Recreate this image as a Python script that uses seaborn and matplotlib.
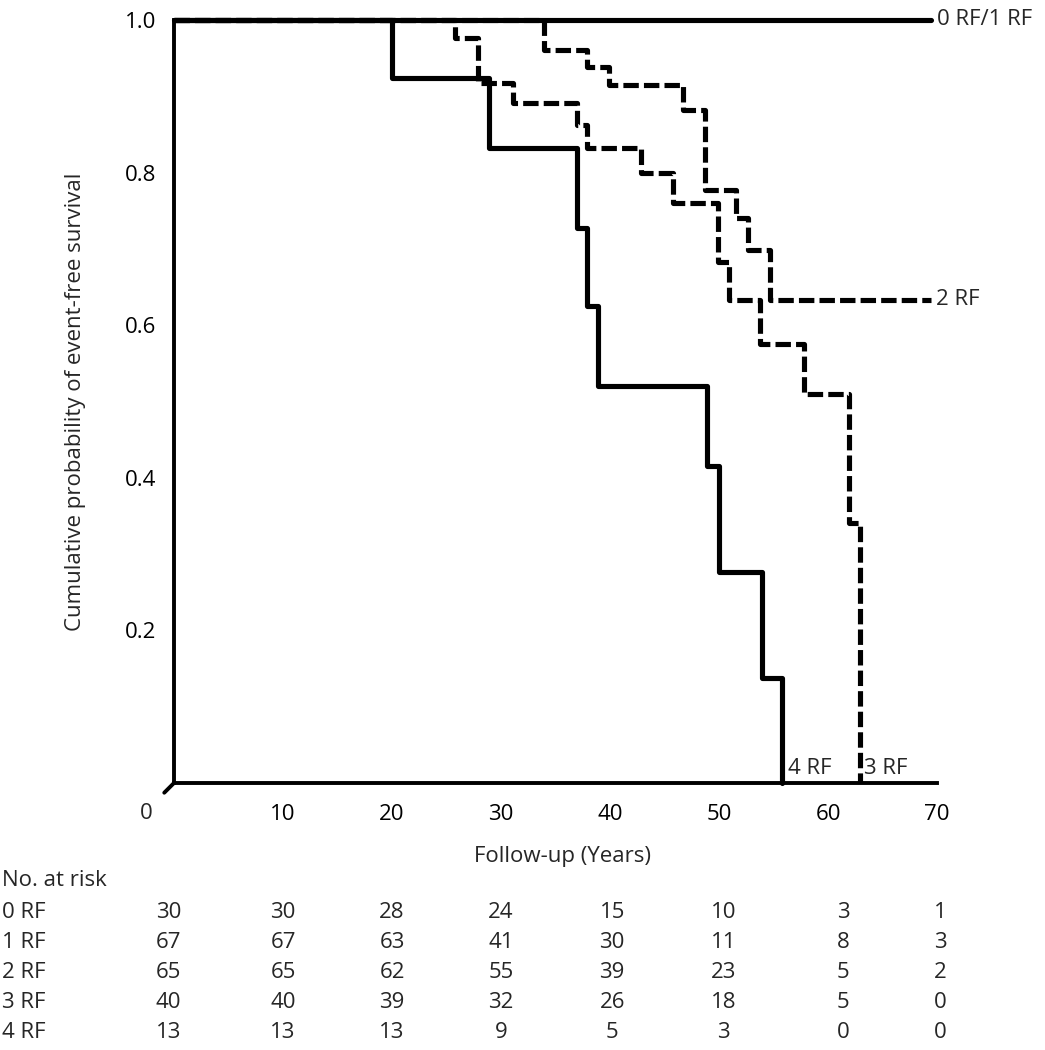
import pandas as pd
import matplotlib.pyplot as plt
import matplotlib.transforms as mtransforms
import seaborn as sns

sns.set_style("white")
plt.rcParams['font.family'] = ['Open Sans', 'DejaVu Sans']
plt.rcParams['font.size'] = 16

# -------------------------
# Kaplan-Meier step data
# -------------------------
t_01 = [0, 69.4]
s_01 = [1.0, 1.0]

t_2 = [0, 33.9, 37.9, 39.9, 46.7, 48.7, 51.6, 52.7, 54.7, 69.4]
s_2 = [1.0, 0.961, 0.938, 0.915, 0.882, 0.777, 0.741, 0.699, 0.633, 0.633]

t_3 = [0, 25.8, 27.9, 31.1, 37.0, 37.9, 42.8, 45.8, 49.9, 50.9, 53.8, 57.8, 61.9, 62.9]
s_3 = [1.0, 0.976, 0.918, 0.891, 0.862, 0.832, 0.800, 0.760, 0.683, 0.633, 0.575, 0.510, 0.341, 0.0]

t_4 = [0, 20.0, 28.9, 37.0, 37.9, 38.9, 48.9, 50.0, 53.9, 55.8]
s_4 = [1.0, 0.924, 0.832, 0.727, 0.625, 0.520, 0.415, 0.277, 0.138, 0.0]

# number at risk table
risk_times = [0, 10, 20, 30, 40, 50, 60, 70]
risk_groups = ["0 RF", "1 RF", "2 RF", "3 RF", "4 RF"]
risk_0 = [30, 30, 28, 24, 15, 10, 3, 1]
risk_1 = [67, 67, 63, 41, 30, 11, 8, 3]
risk_2 = [65, 65, 62, 55, 39, 23, 5, 2]
risk_3 = [40, 40, 39, 32, 26, 18, 5, 0]
risk_4 = [13, 13, 13, 9, 5, 3, 0, 0]

x_ticks = [10, 20, 30, 40, 50, 60, 70]
y_ticks = [0.2, 0.4, 0.6, 0.8, 1.0]

# -------------------------
# Plot
# -------------------------
fig = plt.figure(figsize=(10.45, 10.5), dpi=100)
ax = fig.add_axes([0.1665, 0.2543, 0.7302, 0.7267])

dash = (0, (3.0, 1.0))
curves = [
    (t_4, s_4, "-"),
    (t_3, s_3, dash),
    (t_2, s_2, dash),
    (t_01, s_01, "-"),
]
for t, s, ls in curves:
    d = pd.DataFrame({"time": t, "surv": s})
    sns.lineplot(data=d, x="time", y="surv", ax=ax, color="black",
                 linewidth=3.7, linestyle=ls, drawstyle="steps-post",
                 estimator=None, sort=False, clip_on=False)

ax.set_xlim(0, 70)
ax.set_ylim(0, 1.0)
ax.set_xticks(x_ticks)
ax.set_yticks(y_ticks)
ax.set_yticklabels([f"{v:.1f}" for v in y_ticks])
sns.despine(ax=ax)
for sp in ["left", "bottom"]:
    ax.spines[sp].set_linewidth(2.8)
    ax.spines[sp].set_color("black")
ax.tick_params(axis="both", direction="out", length=10, width=2.8,
               colors="black", labelsize=16)
ax.tick_params(axis="x", pad=5)
ax.tick_params(axis="y", pad=3)

# origin label and axis break
ax.text(-2.5, 0, "0", transform=mtransforms.offset_copy(ax.transData, fig=fig, x=0, y=-31, units="dots"),
        ha="center", va="center", fontsize=16)
ax.annotate("", xy=(0, 0), xytext=(-7, -7), textcoords="offset points",
            arrowprops=dict(arrowstyle="-", lw=2.8, color="black",
                            shrinkA=0, shrinkB=0), annotation_clip=False)

ax.set_xlabel("Follow-up (Years)", fontsize=16)
ax.set_ylabel("Cumulative probability of event-free survival", fontsize=16)
ax.xaxis.set_label_coords(0.509, -0.083)
ax.yaxis.set_label_coords(-0.115, 0.5)

# curve labels
ax.text(70, 1.0, "0 RF/1 RF", ha="left", va="center", fontsize=16, clip_on=False)
ax.text(69.9, s_2[-1], "2 RF", ha="left", va="center", fontsize=16, clip_on=False)
ax.text(t_4[-1] + 0.5, 0.005, "4 RF", ha="left", va="bottom", fontsize=16)
ax.text(t_3[-1] + 0.4, 0.005, "3 RF", ha="left", va="bottom", fontsize=16)

# number at risk table
col_x = [-0.5, 10, 20, 30, 40.2, 50.4, 61.4, 70.3]
row_y = [913, 943, 973, 1003, 1033]
trans = mtransforms.blended_transform_factory(ax.transData, fig.transFigure)
fig.text(0.002, 1 - 880 / 1050, "No. at risk", ha="left", va="center", fontsize=16)
for grp, counts, yp in zip(risk_groups, [risk_0, risk_1, risk_2, risk_3, risk_4], row_y):
    fig.text(0.002, 1 - yp / 1050, grp, ha="left", va="center", fontsize=16)
    for xc, n in zip(col_x, counts):
        ax.text(xc, 1 - yp / 1050, str(n), transform=trans, ha="center",
                va="center", fontsize=16, clip_on=False)

plt.savefig("out.png", dpi=100)
